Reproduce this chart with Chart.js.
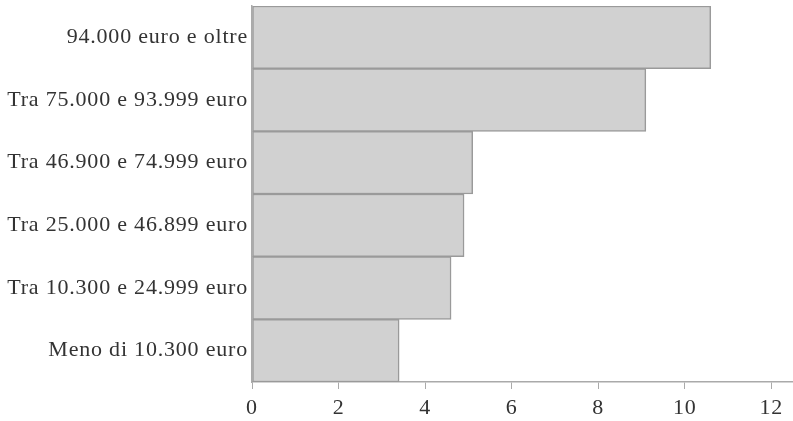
<!DOCTYPE html>
<html>
<head>
<meta charset="utf-8">
<script src="https://cdn.jsdelivr.net/npm/chart.js@4"></script>
<style>
  html, body { margin: 0; padding: 0; background: #ffffff; }
  #wrap { width: 793px; height: 421px; position: relative; }
</style>
</head>
<body>
<div id="wrap"><canvas id="chart"></canvas></div>
<script>
// fasce di reddito, dall'alto in basso
const categories = [
  '94.000 euro e oltre',
  'Tra 75.000 e 93.999 euro',
  'Tra 46.900 e 74.999 euro',
  'Tra 25.000 e 46.899 euro',
  'Tra 10.300 e 24.999 euro',
  'Meno di 10.300 euro'
];
const values = [10.6, 9.1, 5.1, 4.9, 4.6, 3.4];
const xTicks = [0, 2, 4, 6, 8, 10, 12];

const font = { family: '"Liberation Serif", "DejaVu Serif", serif', size: 22 };

// spaziatura lettere un po' più larga, per somigliare al Garamond dell'originale
const spacingPlugin = {
  id: 'spacing',
  beforeDraw(chart) { chart.ctx.letterSpacing = '0.8px'; }
};

new Chart(document.getElementById('chart'), {
  type: 'bar',
  data: {
    labels: categories,
    datasets: [{
      data: values,
      backgroundColor: '#d1d1d1',
      borderColor: '#9a9a9a',
      borderWidth: 1.5,
      borderSkipped: false,
      barPercentage: 1,
      categoryPercentage: 1
    }]
  },
  options: {
    indexAxis: 'y',
    responsive: true,
    maintainAspectRatio: false,
    animation: false,
    layout: { padding: { top: 6, right: 0, bottom: 0, left: 0 } },
    plugins: {
      legend: { display: false },
      tooltip: { enabled: false }
    },
    scales: {
      x: {
        min: 0,
        max: 12.5,
        afterBuildTicks: scale => {
          scale.ticks = xTicks.map(v => ({ value: v }));
        },
        afterFit: scale => {
          scale.height = 39;
          scale.paddingLeft = 0;
          scale.paddingRight = 0;
        },
        grid: {
          display: true,
          drawOnChartArea: false,
          drawTicks: true,
          tickLength: 7,
          color: '#aaaaaa'
        },
        border: { display: true, color: '#aaaaaa', width: 1.5 },
        ticks: { color: '#333333', font: font, padding: 6 }
      },
      y: {
        afterFit: scale => {
          scale.width = 252;
          scale.paddingTop = 0;
          scale.paddingBottom = 0;
        },
        grid: { display: false },
        border: { display: true, color: '#aaaaaa', width: 1.5 },
        ticks: { color: '#333333', font: font, padding: -4 }
      }
    }
  },
  plugins: [spacingPlugin]
});
</script>
</body>
</html>
